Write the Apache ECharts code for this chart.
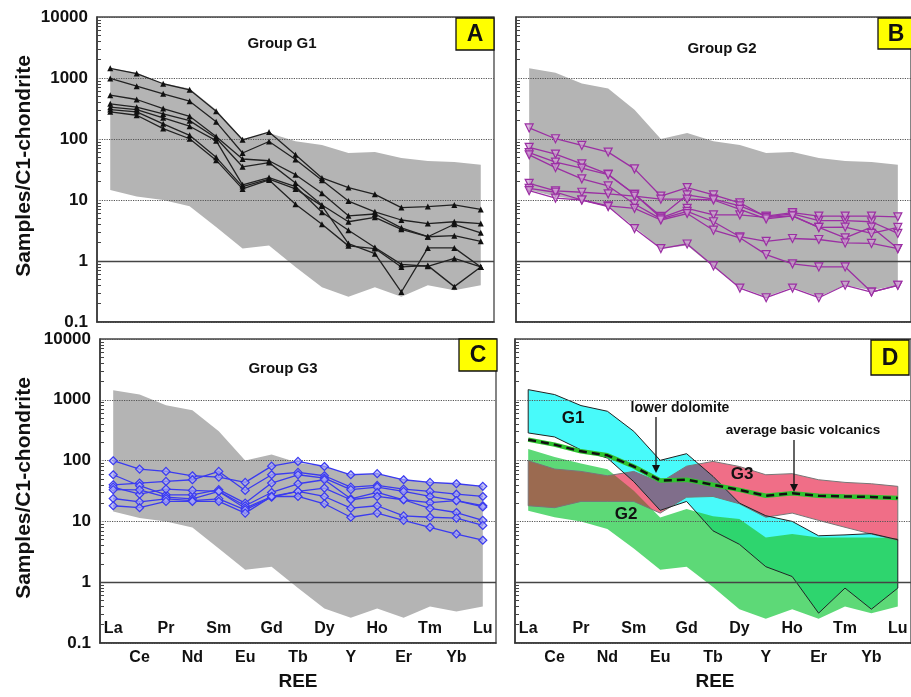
<!DOCTYPE html>
<html>
<head>
<meta charset="utf-8" />
<title>REE chondrite-normalised patterns</title>
<style>body{margin:0;background:#fff}</style>
</head>
<body>
<div id="main" style="width:911px;height:697px"></div>
<script src="https://cdn.jsdelivr.net/npm/echarts@6/dist/echarts.min.js"></script>
<script>
// categories and tick values
var ree = ['La', 'Ce', 'Pr', 'Nd', 'Sm', 'Eu', 'Gd', 'Tb', 'Dy', 'Y', 'Ho', 'Er', 'Tm', 'Yb', 'Lu'];
var yTicks = [0.1, 1, 10, 100, 1000, 10000];

// grey envelope of all samples (panels A-C)
var envHi = [1440, 1220, 815, 670, 303, 100, 126, 92, 80, 59, 61, 49, 43.5, 42, 38];
var envLo = [14.6, 11.4, 10, 7.9, 3.6, 1.6, 1.8, 0.8, 0.37, 0.26, 0.37, 0.26, 0.40, 0.33, 0.40];

// group G1 samples
var g1 = [
  [1440, 1180, 805, 641, 285, 97, 130, 55, 23, 16, 12.4, 7.5, 7.8, 8.3, 7.0],
  [985, 735, 551, 417, 191, 59, 91, 46, 21, 9.6, 6.4, 4.7, 4.1, 4.4, 4.1],
  [523, 444, 316, 236, 110, 47, 44, 26, 12.9, 5.5, 5.9, 3.5, 2.5, 4.0, 2.9],
  [378, 332, 258, 200, 104, 35, 41, 19, 8.3, 4.4, 5.2, 3.3, 2.5, 2.6, 2.1],
  [332, 304, 222, 162, 94, 17.7, 23.3, 16.6, 6.3, 3.2, 1.66, 0.88, 0.82, 1.1, 0.8],
  [304, 279, 177, 115, 50, 16.6, 22, 15.2, 8.0, 1.93, 1.32, 0.31, 1.64, 1.64, 0.8],
  [279, 245, 148, 101, 45, 15.2, 21.3, 8.5, 4.0, 1.77, 1.6, 0.8, 0.84, 0.38, 0.8]
];

// group G2 samples
var g2 = [
  [152, 101, 78.5, 61, 32.4, 11.6, 16, 12.1, 9.0, 5.3, 5.9, 4.6, 4.6, 4.4, 2.83],
  [73, 56.6, 39.2, 26.5, 12.4, 5.4, 12.1, 10.3, 8.0, 5.45, 6.2, 5.45, 5.45, 5.45, 5.3],
  [60, 41.8, 33.3, 26, 12.4, 5.1, 7.3, 5.7, 5.7, 5.2, 5.5, 3.55, 2.39, 3.6, 1.6],
  [55, 34, 22.2, 17, 8.6, 4.9, 6.5, 4.4, 2.5, 2.1, 2.34, 2.25, 1.98, 1.94, 1.6],
  [18.8, 14.1, 13.4, 12.6, 11.6, 10.3, 10.3, 10.0, 7.0, 4.9, 5.5, 3.55, 3.6, 2.83, 3.55],
  [15.5, 13.4, 10, 8, 7.3, 4.7, 6.0, 3.2, 2.4, 1.27, 0.9, 0.8, 0.8, 0.31, 0.4],
  [14.2, 10.7, 10, 7.8, 3.4, 1.6, 1.9, 0.83, 0.36, 0.25, 0.36, 0.25, 0.4, 0.31, 0.4]
];

// group G3 samples
var g3 = [
  [99.5, 72.6, 66.4, 56.3, 53.5, 43.8, 81, 97, 80, 58.5, 61, 48.4, 43.8, 41.6, 37.7],
  [40, 42.7, 45.5, 48.4, 66.4, 32.3, 58.5, 64, 56.3, 36.6, 39, 34, 31.1, 28, 25.7],
  [58.5, 38.6, 27.4, 27.4, 33.3, 20, 42.7, 58.5, 51.6, 33.3, 36.6, 31.1, 25.7, 22, 18.1],
  [36.6, 28, 34, 32.3, 31.1, 18.1, 29.9, 41.6, 48.4, 23.5, 29.9, 22.7, 20.4, 22, 17.3],
  [33.3, 33, 25.1, 23.5, 31.1, 16.5, 25.7, 31.1, 35.3, 22.7, 25.7, 22.7, 16.4, 14, 10.4],
  [23.8, 21, 23.5, 22, 23.5, 15.5, 25, 31.1, 25.7, 16.5, 18.1, 12.3, 11.7, 11.3, 8.6],
  [18.1, 16.8, 21.3, 21.3, 21.3, 13.7, 25.7, 25.7, 19.5, 11.7, 13.7, 10.4, 8.0, 6.2, 4.9]
];

// panel D fields
var dG1Hi = [1470, 1220, 803, 648, 303, 101, 130, 55, 20, 12.4, 10, 5.8, 6.0, 6.3, 5.0];
var dG1Lo = [285, 245, 150, 110, 45, 15.2, 21.3, 7.0, 4.2, 1.8, 1.24, 0.31, 0.8, 0.36, 0.8];
var dG2Hi = [155, 115, 90, 72, 32, 11.6, 16, 12.1, 11, 5.45, 6.2, 5.45, 5.45, 5.45, 5.3];
var dG2Lo = [15, 11.7, 10, 7.5, 3.6, 1.6, 1.8, 0.83, 0.36, 0.25, 0.36, 0.25, 0.4, 0.31, 0.4];
var dG3Hi = [99.5, 72.6, 66.4, 56.3, 66.4, 43.8, 81, 97, 80, 58.5, 61, 48.4, 43.8, 41.6, 37.7];
var dG3Lo = [18.1, 16.8, 21.3, 21.3, 21.3, 13.7, 25, 25.7, 19.5, 11.7, 13.7, 10.4, 8.0, 6.2, 4.9];
var volcanics = [221, 183, 142, 122, 80, 47, 48.5, 40, 33, 26.4, 29, 26.4, 25.7, 25.3, 24.2];

var F = '"Liberation Sans", Arial, sans-serif';
var INK = '#222';

var minorTicks = [];
for (var k = -1; k < 4; k++) {
  for (var m = 2; m < 10; m++) minorTicks.push(+(m * Math.pow(10, k)).toPrecision(3));
}

var grids = [
  {left: 97, top: 17, width: 397, height: 305},
  {left: 516, top: 17, width: 398, height: 305},
  {left: 100, top: 339, width: 396, height: 304},
  {left: 515, top: 339, width: 399, height: 304}
];
grids.forEach(function (g) { g.show = true; g.borderColor = '#444'; g.borderWidth = 1.3; });

var xAxes = [], yAxes = [];
function isEven(i) { return i % 2 === 0; }
function isOdd(i) { return i % 2 === 1; }
function addAxes(gi, showY, showX) {
  var lab = {fontFamily: F, fontWeight: 'bold', fontSize: 16, color: '#111'};
  xAxes.push({
    type: 'category', gridIndex: gi, data: ree, boundaryGap: true, position: 'bottom',
    axisLine: {lineStyle: {color: '#333', width: 1.5}},
    axisTick: {alignWithLabel: true, inside: true, length: 7, interval: isEven, lineStyle: {color: '#333', width: 1.2}},
    axisLabel: Object.assign({show: showX, inside: true, margin: 6, interval: isEven}, lab),
    splitLine: {show: false}
  });
  xAxes.push({
    type: 'category', gridIndex: gi, data: ree, boundaryGap: true, position: 'bottom',
    axisLine: {show: false},
    axisTick: {alignWithLabel: true, inside: false, length: 7, interval: isOdd, lineStyle: {color: '#333', width: 1.2}},
    axisLabel: Object.assign({show: showX, inside: false, margin: 7, interval: isOdd}, lab),
    splitLine: {show: false}
  });
  yAxes.push({
    type: 'log', logBase: 10, gridIndex: gi, min: 0.1, max: 10000, z: 3, position: 'left',
    axisLine: {show: true, lineStyle: {color: '#333', width: 1.5}},
    axisTick: {inside: false, length: 6, customValues: yTicks, lineStyle: {color: '#333', width: 1.2}},
    axisLabel: {show: showY, margin: 9, customValues: yTicks, formatter: function (v) { return String(v); },
      fontFamily: F, fontWeight: 'bold', fontSize: 17, color: '#111'},
    splitLine: {show: true, lineStyle: {type: 'dotted', color: '#555', width: 1.2}}
  });
  yAxes.push({
    type: 'log', logBase: 10, gridIndex: gi, min: 0.1, max: 10000, z: 3, position: 'left',
    axisLine: {show: false},
    axisTick: {show: true, inside: true, length: 4, customValues: minorTicks, lineStyle: {color: '#444', width: 1}},
    axisLabel: {show: false},
    splitLine: {show: false}
  });
}
addAxes(0, true, false);
addAxes(1, false, false);
addAxes(2, true, true);
addAxes(3, false, true);

function pts(api, lo, hi) {
  var p = [];
  for (var i = 0; i < hi.length; i++) p.push(api.coord([i, hi[i]]));
  for (var j = lo.length - 1; j >= 0; j--) p.push(api.coord([j, lo[j]]));
  return p;
}

var oneLine = {
  silent: true, symbol: 'none', label: {show: false}, animation: false,
  lineStyle: {color: '#444', type: 'solid', width: 1.3},
  data: [{yAxis: 1}]
};

var series = [];
[0, 1, 2].forEach(function (gi) {
  series.push({
    type: 'custom', xAxisIndex: gi * 2, yAxisIndex: gi * 2, z: 1, silent: true,
    data: [[0, 1]],
    renderItem: function (params, api) {
      return {type: 'polygon', shape: {points: pts(api, envLo, envHi)}, style: {fill: '#b4b4b4'}};
    }
  });
});

function addGroup(gi, rows, opt) {
  rows.forEach(function (r, n) {
    var s = {
      type: 'line', xAxisIndex: gi * 2, yAxisIndex: gi * 2, data: r, z: 5,
      symbol: opt.symbol, symbolSize: opt.size, symbolRotate: opt.rotate || 0,
      itemStyle: opt.item, lineStyle: {color: opt.color, width: 1.3}
    };
    if (n === 0) s.markLine = oneLine;
    series.push(s);
  });
}
addGroup(0, g1, {symbol: 'triangle', size: 6, color: '#222', item: {color: '#111'}});
addGroup(1, g2, {symbol: 'triangle', size: 8, rotate: 180, color: '#9b2fa3',
  item: {color: 'rgba(205,160,210,0.7)', borderColor: '#9b2fa3', borderWidth: 1.2}});
addGroup(2, g3, {symbol: 'diamond', size: 8, color: '#3a3af0',
  item: {color: 'rgba(170,170,245,0.7)', borderColor: '#3a3af0', borderWidth: 1.2}});

// panel D: three fields with overlap colours
series.push({
  type: 'custom', xAxisIndex: 6, yAxisIndex: 6, z: 1, silent: true,
  data: [[0, 1]],
  renderItem: function (params, api) {
    var a = pts(api, dG1Lo, dG1Hi), b = pts(api, dG2Lo, dG2Hi), c = pts(api, dG3Lo, dG3Hi);
    return {
      type: 'group',
      children: [
        {type: 'polygon', shape: {points: b}, style: {fill: '#5dd977'}},
        {type: 'polygon', shape: {points: c}, style: {fill: '#f06e87'}},
        {type: 'polygon', shape: {points: a}, style: {fill: '#48fafa'}},
        {type: 'polygon', shape: {points: c}, style: {fill: '#9b6a50'}, clipPath: {type: 'polygon', shape: {points: b}}},
        {type: 'polygon', shape: {points: a}, style: {fill: '#806e8b'}, clipPath: {type: 'polygon', shape: {points: c}}},
        {type: 'polygon', shape: {points: a}, style: {fill: '#2ed56e'}, clipPath: {type: 'polygon', shape: {points: b}}},
        {type: 'polygon', shape: {points: c}, style: {fill: 'none', stroke: '#777', lineWidth: 1}},
        {type: 'polygon', shape: {points: a}, style: {fill: 'none', stroke: '#222', lineWidth: 1}}
      ]
    };
  }
});
series.push({
  type: 'line', xAxisIndex: 6, yAxisIndex: 6, data: volcanics, z: 6, symbol: 'none',
  lineStyle: {color: '#2fc42f', width: 4.5}, markLine: oneLine
});
series.push({
  type: 'line', xAxisIndex: 6, yAxisIndex: 6, data: volcanics, z: 7, symbol: 'none',
  lineStyle: {color: '#111', width: 2.5, type: [8, 5]}
});

function txt(x, y, s, size, extra) {
  return Object.assign({
    type: 'text', x: x, y: y, z: 100,
    style: {text: s, font: 'bold ' + size + 'px ' + F, fill: '#111', textAlign: 'center', textVerticalAlign: 'middle'}
  }, extra || {});
}
function box(x, y, w, h, s) {
  return [
    {type: 'rect', z: 99, shape: {x: x, y: y, width: w, height: h}, style: {fill: '#ffff00', stroke: '#111', lineWidth: 1.3}},
    txt(x + w / 2, y + h / 2 + 1, s, 23)
  ];
}
function arrow(x, y1, y2) {
  return [
    {type: 'line', z: 100, shape: {x1: x, y1: y1, x2: x, y2: y2 - 6}, style: {stroke: '#111', lineWidth: 1.3}},
    {type: 'polygon', z: 100, shape: {points: [[x - 4, y2 - 8], [x + 4, y2 - 8], [x, y2]]}, style: {fill: '#111'}}
  ];
}

var graphics = [].concat(
  box(456, 18, 38, 32, 'A'), box(878, 18, 36, 31, 'B'),
  box(459, 339, 38, 32, 'C'), box(871, 340, 38, 35, 'D'),
  [
    txt(282, 44, 'Group G1', 15), txt(722, 49, 'Group G2', 15), txt(283, 369, 'Group G3', 15),
    txt(24, 166, 'Samples/C1-chondrite', 21, {rotation: Math.PI / 2}),
    txt(24, 488, 'Samples/C1-chondrite', 21, {rotation: Math.PI / 2}),
    txt(298, 682, 'REE', 19), txt(715, 682, 'REE', 19),
    txt(573, 418, 'G1', 17), txt(626, 514, 'G2', 17), txt(742, 474, 'G3', 17),
    txt(680, 408, 'lower dolomite', 14), txt(803, 430, 'average basic volcanics', 13.5)
  ],
  arrow(656, 417, 473), arrow(794, 440, 492)
);

var chart = echarts.init(document.getElementById('main'));
chart.setOption({
  animation: false,
  backgroundColor: '#fff',
  grid: grids,
  xAxis: xAxes,
  yAxis: yAxes,
  series: series,
  graphic: graphics
});
</script>
</body>
</html>
